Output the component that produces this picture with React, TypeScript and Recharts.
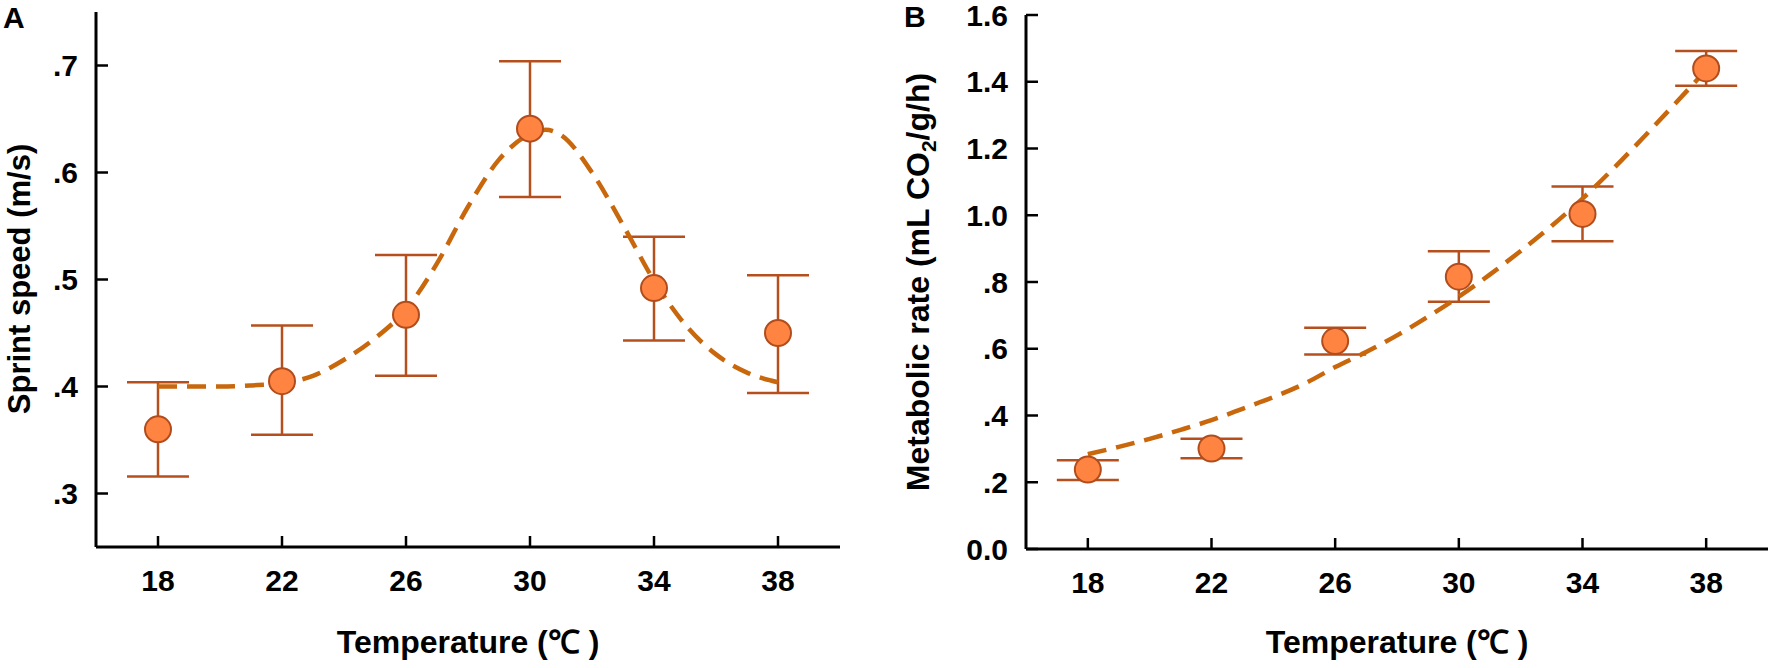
import React from 'react';
import { ComposedChart, Line, Scatter, ErrorBar, XAxis, YAxis } from 'recharts';

const FONT = '"Liberation Sans", Arial, Helvetica, sans-serif';
const INK = '#000000';
const DOT_FILL = '#ff8442';
const DOT_EDGE = '#b14d1c';
const BAR_COLOR = '#b5501e';
const FIT_COLOR = '#c8670c';

const temps = [18, 22, 26, 30, 34, 38];
const xTicks = [18, 22, 26, 30, 34, 38];

// Panel A - sprint speed (m/s)
const speedMean = [0.36, 0.405, 0.467, 0.641, 0.492, 0.45];
const speedHigh = [0.404, 0.457, 0.523, 0.704, 0.54, 0.504];
const speedLow = [0.316, 0.355, 0.41, 0.577, 0.443, 0.394];
const speedTicks = [0.3, 0.4, 0.5, 0.6, 0.7];
const speedFitT = [18, 19, 20, 21, 22, 23, 24, 25, 26, 27, 28, 29, 30, 30.5, 31, 32, 33, 34, 35, 36, 37, 38];
const speedFit = [0.4, 0.4, 0.4, 0.401, 0.403, 0.41, 0.425, 0.445, 0.472, 0.515, 0.568, 0.612, 0.636, 0.64, 0.635, 0.6, 0.551, 0.499, 0.458, 0.43, 0.413, 0.404];

// Panel B - metabolic rate (mL CO2/g/h)
const rateMean = [0.238, 0.301, 0.623, 0.816, 1.004, 1.44];
const rateHigh = [0.266, 0.33, 0.663, 0.892, 1.086, 1.492];
const rateLow = [0.207, 0.272, 0.583, 0.741, 0.922, 1.388];
const rateTicks = [0, 0.2, 0.4, 0.6, 0.8, 1.0, 1.2, 1.4, 1.6];
const rateFitT = [18, 19, 20, 21, 22, 23, 24, 25, 26, 27, 28, 29, 30, 31, 32, 33, 34, 35, 36, 37, 38];
const rateFit = [0.284, 0.306, 0.33, 0.357, 0.386, 0.42, 0.455, 0.495, 0.545, 0.59, 0.64, 0.696, 0.756, 0.822, 0.893, 0.968, 1.05, 1.14, 1.236, 1.335, 1.435];

const points = (mean: number[], high: number[], low: number[]) =>
  temps.map((t, i) => ({ t, v: mean[i], err: [mean[i] - low[i], high[i] - mean[i]] }));
const curve = (ts: number[], vs: number[]) => ts.map((t, i) => ({ t, v: vs[i] }));

const fmtA = (v: number) => v.toFixed(1).replace(/^0/, '');
const fmtB = (v: number) => (v === 0 ? '0.0' : v < 1 ? v.toFixed(1).replace(/^0/, '') : v.toFixed(1));

const tickStyle = { fill: INK, fontSize: 30, fontWeight: 700, fontFamily: FONT };
const axisStyle = { stroke: INK, strokeWidth: 3 };
const tickLineStyle = { stroke: INK, strokeWidth: 2.5 };

const Dot = (props: any) => (
  <circle cx={props.cx} cy={props.cy} r={13} fill={DOT_FILL} stroke={DOT_EDGE} strokeWidth={2} />
);

interface PanelProps {
  width: number;
  axisWidth: number;
  top: number;
  right: number;
  xHeight: number;
  domain: [number, number];
  yTicks: number[];
  fmt: (v: number) => string;
  pts: any[];
  fit: any[];
}

const Panel = ({ width, axisWidth, top, right, xHeight, domain, yTicks, fmt, pts, fit }: PanelProps) => (
  <ComposedChart width={width} height={668} margin={{ top, right, bottom: 0, left: 0 }}>
    <XAxis
      dataKey="t"
      type="number"
      domain={[16, 40]}
      ticks={xTicks}
      interval={0}
      height={xHeight}
      tickSize={-11}
      tickMargin={34}
      tick={tickStyle}
      axisLine={axisStyle}
      tickLine={tickLineStyle}
    />
    <YAxis
      type="number"
      domain={domain}
      ticks={yTicks}
      interval={0}
      width={axisWidth}
      tickSize={-12}
      tickMargin={30}
      tickFormatter={fmt}
      tick={tickStyle}
      axisLine={axisStyle}
      tickLine={tickLineStyle}
    />
    <Scatter data={pts} dataKey="v" shape={Dot} isAnimationActive={false}>
      <ErrorBar dataKey="err" direction="y" width={31} stroke={BAR_COLOR} strokeWidth={2.5} />
    </Scatter>
    <Line
      data={fit}
      dataKey="v"
      type="monotone"
      stroke={FIT_COLOR}
      strokeWidth={4.5}
      strokeDasharray="19 10"
      dot={false}
      activeDot={false}
      isAnimationActive={false}
    />
  </ComposedChart>
);

const titleStyle = { fontFamily: FONT, fontWeight: 700, fill: INK };

export default function App() {
  return (
    <div style={{ position: 'absolute', left: 0, top: 0, width: 1772, height: 668, background: '#fff' }}>
      <div style={{ position: 'absolute', left: 0, top: 0 }}>
        <Panel
          width={880}
          axisWidth={96}
          top={12}
          right={40}
          xHeight={121}
          domain={[0.25, 0.75]}
          yTicks={speedTicks}
          fmt={fmtA}
          pts={points(speedMean, speedHigh, speedLow)}
          fit={curve(speedFitT, speedFit)}
        />
      </div>
      <div style={{ position: 'absolute', left: 880, top: 0 }}>
        <Panel
          width={892}
          axisWidth={146}
          top={15}
          right={4}
          xHeight={119}
          domain={[0, 1.6]}
          yTicks={rateTicks}
          fmt={fmtB}
          pts={points(rateMean, rateHigh, rateLow)}
          fit={curve(rateFitT, rateFit)}
        />
      </div>
      <svg width={1772} height={668} style={{ position: 'absolute', left: 0, top: 0, pointerEvents: 'none' }}>
        <text x={3} y={28} fontSize={30} {...titleStyle}>A</text>
        <text x={904} y={27} fontSize={30} {...titleStyle}>B</text>
        <text x={30} y={279} fontSize={31} textAnchor="middle" transform="rotate(-90 30 279)" {...titleStyle}>
          Sprint speed (m/s)
        </text>
        <text x={929} y={282} fontSize={32} textAnchor="middle" transform="rotate(-90 929 282)" {...titleStyle}>
          Metabolic rate (mL CO<tspan fontSize={21} dy={7}>2</tspan>
          <tspan dy={-7}>/g/h)</tspan>
        </text>
        <text x={468} y={653} fontSize={32} textAnchor="middle" {...titleStyle}>Temperature (℃ )</text>
        <text x={1397} y={653} fontSize={32} textAnchor="middle" {...titleStyle}>Temperature (℃ )</text>
      </svg>
    </div>
  );
}
